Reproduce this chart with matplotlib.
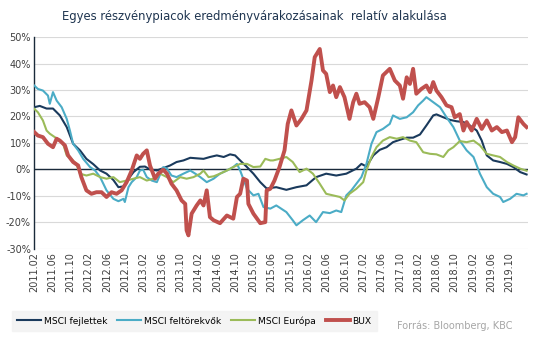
import matplotlib
matplotlib.use("Agg")
import matplotlib.pyplot as plt
from matplotlib.lines import Line2D

# ---- data (month offsets from 2011.02, values in %) ----
tick_labels = ["2011.02", "2011.06", "2011.10", "2012.02", "2012.06", "2012.10",
               "2013.02", "2013.06", "2013.10", "2014.02", "2014.06", "2014.10",
               "2015.02", "2015.06", "2015.10", "2016.02", "2016.06", "2016.10",
               "2017.02", "2017.06", "2017.10", "2018.02", "2018.06", "2018.10",
               "2019.02", "2019.06", "2019.10"]
tick_months = [4 * i for i in range(len(tick_labels))]

dev_t = [0.1, 1.3, 2.8, 4.2, 5.7, 7.2, 8.6, 10.1, 11.5, 13.0, 14.5, 15.9, 17.4, 18.5,
         19.6, 20.7, 21.8, 23.2, 24.3, 25.4, 26.9, 28.3, 29.8, 31.2, 32.7, 34.2, 35.6,
         37.1, 38.5, 40.0, 41.5, 42.9, 44.0, 45.1, 46.6, 48.0, 49.5, 50.9, 53.0, 55.2,
         57.4, 59.6, 61.7, 63.9, 66.1, 68.3, 70.5, 71.6, 72.7, 74.2, 75.6, 77.1, 78.5,
         80.0, 81.5, 82.9, 84.4, 85.8, 87.3, 88.0, 89.5, 91.0, 92.4, 93.9, 95.3, 96.8,
         97.9, 99.0, 100.4, 101.9, 103.4, 104.8, 106.3, 107.7]
dev_v = [23.5, 24, 23, 23, 20.4, 16, 9.7, 7.2, 4, 2, -0.4, -1.6, -4, -6.7,
         -6.4, -3.5, -1, 1, 1.1, 0, -0.4, 0.5, 1.5, 2.8, 3.4, 4.4, 4.2,
         4, 4.7, 5.3, 4.7, 5.7, 5.3, 3.4, 0.9, -1.6, -4.8, -7.2, -6.7, -7.7,
         -6.7, -6, -2.9, -1.6, -2.3, -1.6, 0.3, 2.1, 1.1, 5.3, 7.4, 8.4, 10.3,
         11.2, 12, 12, 13.2, 16.6, 20.4, 20.8, 19.7, 18.7, 18.2, 17.9, 16.6, 14.7,
         10.9, 5.3, 3.4, 2.8, 2.1, 0.9, -1, -1.9]

em_t = [0.1, 0.9, 2.0, 3.1, 3.5, 4.2, 5.0, 6.1, 7.2, 7.9, 8.6, 9.7, 10.8, 12.3, 13.4,
        14.5, 15.2, 15.9, 17.4, 18.5, 19.6, 19.9, 20.7, 21.4, 22.5, 23.2, 23.9, 24.7,
        25.8, 26.9, 28.3, 29.1, 30.1, 31.2, 32.7, 34.2, 35.3, 36.4, 37.8, 39.3, 40.7,
        42.2, 43.6, 44.4, 45.1, 46.6, 48.0, 49.1, 50.2, 51.7, 53.0, 55.2, 56.6, 57.4,
        58.8, 60.3, 61.7, 63.2, 64.7, 66.1, 67.2, 68.3, 69.4, 70.5, 71.6, 72.7, 73.8,
        74.9, 76.3, 77.8, 78.5, 80.0, 81.5, 82.9, 84.0, 85.1, 85.8, 87.3, 88.8, 90.2,
        91.7, 93.1, 94.6, 96.1, 97.5, 99.0, 100.4, 101.9, 102.6, 104.1, 105.5, 107.0,
        107.7]
em_v = [31.7, 30.4, 29.8, 27.9, 24.8, 29.2, 26, 23.5, 19.1, 14.7, 9.7, 7.2, 4, 0.9, -0.4,
        -2.9, -5.4, -7.9, -11.1, -12, -11.1, -12.3, -6.7, -4.8, -2.9, -0.4, -0.1, -2.9,
        -4.2, -4.8, 0.9, 0.3, -2.3, -2.9, -1.6, -0.4, -1.6, -2.9, -4.8, -3.5, -1.6,
        -0.4, 0.9, 2.1, -0.4, -7.3, -9.8, -9.2, -14.2, -14.8, -13.6, -16.1, -19.2, -21.1,
        -19.2, -17.4, -19.9, -16.1, -16.5, -15.5, -16.1, -9.8, -7.9, -5.4, -2.9, 2.1, 9.7,
        14.1, 15.3, 17.2, 20.4, 19.1, 19.7, 21.6, 24.2, 26, 27.3, 25.4, 23.5, 19.7,
        16, 10.9, 7.2, 4.7, -1.6, -6.7, -9.2, -10.4, -12.3, -11.1, -9.2, -9.8,
        -9.2]

eu_t = [0.1, 0.9, 2.0, 2.8, 3.5, 4.6, 5.7, 6.4, 7.2, 8.2, 9.3, 10.1, 11.5, 13.0, 14.5,
        15.9, 17.4, 18.8, 20.3, 21.8, 23.2, 24.7, 26.1, 27.6, 29.1, 30.5, 32.0, 33.4,
        34.9, 36.4, 37.1, 38.2, 39.3, 40.7, 42.2, 43.6, 45.1, 46.6, 48.0, 49.5, 50.6,
        51.7, 52.3, 53.7, 55.2, 56.6, 58.1, 59.6, 61.0, 62.5, 63.9, 65.4, 66.9, 67.9,
        69.0, 70.5, 72.0, 72.7, 73.8, 74.9, 76.3, 77.8, 79.3, 80.7, 82.2, 83.6, 85.1,
        86.6, 88.0, 89.5, 90.6, 91.7, 93.1, 94.6, 96.1, 97.5, 99.0, 100.4, 101.9,
        103.4, 104.8, 106.3, 107.7]
eu_v = [22.9, 21.6, 18.5, 14.7, 13.5, 12.2, 10.9, 9.7, 5.3, 4, 2.1, -1.6, -2.3, -1.6, -2.9,
        -3.5, -2.9, -4.8, -4.2, -3.5, -2.9, -4.2, -3.5, -1.6, -2.9, -4.8, -2.9, -3.5,
        -2.9, -1.6, -0.4, -2.9, -2.6, -1.6, -0.4, 0.9, 2.1, 2.1, 0.9, 1.1, 4,
        3.4, 3.4, 4, 4.7, 2.8, -1, 0.3, -1.6, -5.4, -9.2, -9.8, -10.4, -11.7,
        -9.2, -7.3, -4.8, -0.4, 4.7, 8.4, 10.9, 12.2, 11.6, 12.2, 10.9, 10.3, 6.5,
        5.9, 5.7, 4.7, 7.2, 8.4, 10.7, 10.3, 10.9, 9.1, 5.9, 5.3, 4.7,
        2.8, 1.5, 0.3, -0.5]

bux_t = [0.1, 0.9, 2.0, 3.1, 4.2, 5.0, 5.7, 6.8, 7.5, 8.6, 9.7, 10.4, 11.5, 12.6, 13.7,
         14.8, 15.9, 17.0, 18.1, 19.2, 20.3, 21.4, 22.5, 23.2, 23.9, 24.7, 25.4, 26.5,
         27.2, 28.3, 29.1, 30.1, 31.2, 32.3, 33.1, 33.4, 33.8, 34.5, 35.6, 36.4, 37.1,
         37.8, 38.5, 39.3, 40.7, 42.2, 43.6, 44.4, 45.1, 45.8, 46.6, 46.9, 48.0, 49.5,
         50.6, 50.9, 51.7, 52.6, 53.7, 54.8, 55.5, 56.3, 57.4, 58.5, 59.6, 60.7, 61.4,
         62.5, 63.2, 63.9, 64.7, 65.4, 66.1, 66.9, 67.9, 69.0, 69.8, 70.5, 71.2, 72.3,
         73.4, 74.2, 75.3, 76.3, 77.8, 78.9, 80.0, 80.7, 81.5, 82.2, 82.9, 83.6, 84.7,
         85.8, 86.6, 87.3, 88.0, 89.1, 90.2, 91.3, 92.0, 93.1, 93.9, 94.6, 95.7, 96.8,
         97.9, 99.0, 100.1, 101.2, 102.3, 103.4, 104.5, 105.2, 105.9, 107.0, 107.7]
bux_v = [14.1, 12.8, 12.2, 9.7, 8.4, 11.6, 10.9, 9.1, 5.3, 2.8, 1.5, -2.9, -7.9, -9.2, -8.6,
         -8.6, -10.4, -8.6, -9.2, -7.9, -4.8, -0.4, 5.3, 4, 5.9, 7.2, 1.5, -3.5,
         -1.6, -0.1, -1.6, -5.4, -7.9, -11.7, -13, -23, -24.9, -16.7, -13.6, -11.7, -13.6,
         -7.9, -18, -19.2, -20.3, -17.4, -18.6, -10.4, -9.2, -3.5, -4.2, -13, -16.7, -20.3,
         -19.9, -7.9, -7.3, -4.2, 0.9, 7.2, 17.2, 22.3, 16.6, 19.1, 22.3, 33.6, 42.4,
         45.5, 37.4, 36.1, 29.2, 31.7, 27.3, 31.1, 27.3, 19.1, 25.4, 28.6, 24.8, 25.4,
         23.5, 19.1, 27.3, 35.5, 38, 33.6, 31.7, 26.7, 34.8, 32.3, 38, 28.6, 30.4,
         31.7, 29.2, 33, 29.8, 27.3, 24.2, 23.5, 19.7, 20.9, 14.7, 17.9, 14.7, 19.1,
         15.3, 18.5, 14.7, 16, 14.1, 14.7, 10.3, 12.2, 19.7, 17.2, 16]

series_names = ["MSCI fejlettek", "MSCI feltörekvők", "MSCI Európa", "BUX"]
colors = ["#1a3a5c", "#4bacc6", "#9bbb59", "#c0504d"]
widths = [1.5, 1.5, 1.5, 2.8]

# ---- figure ----
fig = plt.figure(figsize=(5.36, 3.53), dpi=100)
ax = fig.add_axes([0.063, 0.295, 0.922, 0.6])

data = [(dev_t, dev_v), (em_t, em_v), (eu_t, eu_v), (bux_t, bux_v)]
for (t, v), c, w, n in zip(data, colors, widths, series_names):
    ax.plot(t, v, color=c, lw=w, label=n, solid_joinstyle="round", zorder=3)

ax.set_xlim(0, 108)
ax.set_ylim(-30, 50)
ax.set_yticks(range(-30, 51, 10))
ax.set_yticklabels([f"{v}%" for v in range(-30, 51, 10)], fontsize=7, color="#404040")
ax.set_xticks(tick_months)
ax.set_xticklabels(tick_labels, rotation=90, fontsize=7, color="#404040")
ax.tick_params(axis="both", length=0, pad=2)
ax.grid(axis="y", color="#d9d9d9", lw=0.8)
ax.set_axisbelow(True)
ax.axhline(0, color="#1a2a3a", lw=1.0, zorder=2)
for s in ["top", "right", "bottom"]:
    ax.spines[s].set_visible(False)
ax.spines["left"].set_color("#1a2a3a")
ax.spines["left"].set_linewidth(1.0)

fig.text(0.474, 0.952, "Egyes részvénypiacok eredményvárakozásainak  relatív alakulása",
         ha="center", va="center", fontsize=8.4, color="#1f3550")

handles = [Line2D([0], [0], color=c, lw=w) for c, w in zip(colors, widths)]
leg = fig.legend(handles, series_names, loc="center left", bbox_to_anchor=(0.022, 0.091),
                 ncol=4, fontsize=6.6, frameon=True, fancybox=False, handlelength=2.6,
                 handletextpad=0.3, columnspacing=1.1, borderpad=0.6, borderaxespad=0)
leg.get_frame().set_facecolor("#f2f2f2")
leg.get_frame().set_edgecolor("#f2f2f2")

fig.text(0.957, 0.078, "Forrás: Bloomberg, KBC", ha="right", va="center",
         fontsize=7, color="#a6a6a6")

fig.savefig("out.png", dpi=100)
